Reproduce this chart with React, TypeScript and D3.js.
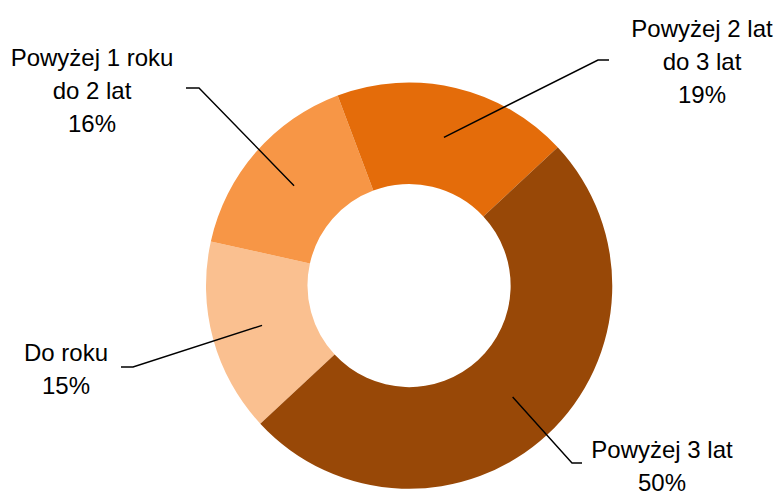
import React, { useEffect } from 'react';
import * as d3 from 'd3';

// Data (share of total, %)
const categories = ['Do roku', 'Powyżej 1 roku do 2 lat', 'Powyżej 2 lat do 3 lat', 'Powyżej 3 lat'];
const values = [15.4, 15.8, 18.8, 50.0];
const labelLines = [
  ['Do roku'],
  ['Powyżej 1 roku', 'do 2 lat'],
  ['Powyżej 2 lat', 'do 3 lat'],
  ['Powyżej 3 lat'],
];
const colors = ['#FAC090', '#F79646', '#E46C0A', '#984807'];

const WIDTH = 777;
const HEIGHT = 493;
const CX = 409;
const CY = 285.5;
const OUTER = 203;
const INNER = 101.5;
const START_DEG = 227.1;
const FONT_SIZE = 24;
const LINE_HEIGHT = 33;

// Label placement (text centre + first baseline) and leader elbow/end, per slice
const labelLayout = [
  { tx: 66, ty: 361, elbow: [133, 367], end: [121, 367] },
  { tx: 92, ty: 66, elbow: [199, 88], end: [186, 88] },
  { tx: 702, ty: 37, elbow: [598, 60], end: [609, 60] },
  { tx: 662, ty: 458, elbow: [572, 463], end: [582, 463] },
];

export default function App() {
  useEffect(() => {
    document.body.style.margin = '0';
  }, []);

  const total = d3.sum(values);
  const startAngle = (START_DEG * Math.PI) / 180;

  const pie = d3.pie<number>()
    .sort(null)
    .value(d => d)
    .startAngle(startAngle)
    .endAngle(startAngle + 2 * Math.PI);

  const arc = d3.arc<d3.PieArcDatum<number>>()
    .innerRadius(INNER)
    .outerRadius(OUTER);

  const arcs = pie(values);

  return (
    <svg width={WIDTH} height={HEIGHT} style={{ display: 'block' }}>
      <rect width={WIDTH} height={HEIGHT} fill="#ffffff" />
      <g transform={`translate(${CX},${CY})`}>
        {arcs.map((a, i) => (
          <path key={categories[i]} d={arc(a) || ''} fill={colors[i]} />
        ))}
      </g>
      {arcs.map((a, i) => {
        const [cx, cy] = arc.centroid(a);
        const lay = labelLayout[i];
        const pts: [number, number][] = [
          [CX + cx, CY + cy],
          [lay.elbow[0], lay.elbow[1]],
          [lay.end[0], lay.end[1]],
        ];
        return (
          <path
            key={'line-' + i}
            d={d3.line()(pts) || ''}
            fill="none"
            stroke="#000000"
            strokeWidth={1.4}
          />
        );
      })}
      {arcs.map((a, i) => {
        const lay = labelLayout[i];
        const pct = Math.round((values[i] / total) * 100) + '%';
        const lines = [...labelLines[i], pct];
        return (
          <text
            key={'label-' + i}
            x={lay.tx}
            y={lay.ty}
            textAnchor="middle"
            fontFamily="'Liberation Sans', Arial, sans-serif"
            fontSize={FONT_SIZE}
            fill="#000000"
          >
            {lines.map((l, j) => (
              <tspan key={j} x={lay.tx} dy={j === 0 ? 0 : LINE_HEIGHT}>{l}</tspan>
            ))}
          </text>
        );
      })}
    </svg>
  );
}
